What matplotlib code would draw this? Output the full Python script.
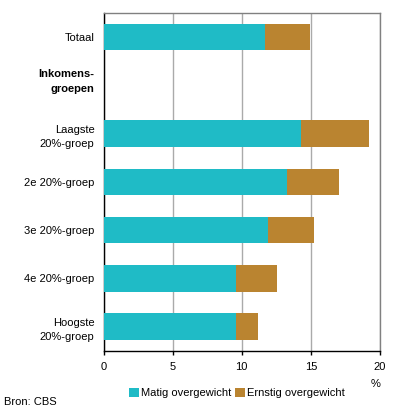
import matplotlib
matplotlib.use("Agg")
import matplotlib.pyplot as plt
import matplotlib.transforms as mtransforms
from matplotlib.patches import Patch

plt.rcParams['font.family'] = ['Liberation Sans', 'DejaVu Sans']

categories = ["Totaal", "Inkomens-\ngroepen", "Laagste\n20%-groep", "2e 20%-groep",
              "3e 20%-groep", "4e 20%-groep", "Hoogste\n20%-groep"]
matig = [11.7, None, 14.3, 13.3, 11.9, 9.6, 9.6]
ernstig = [3.25, None, 4.9, 3.7, 3.35, 2.95, 1.6]
series_names = ["Matig overgewicht", "Ernstig overgewicht"]
xticks = [0, 5, 10, 15, 20]

teal = "#1FBBC6"
brown = "#BA8430"

fig = plt.figure(figsize=(3.96, 4.16), dpi=100)
ax = fig.add_axes([0.2614, 0.157, 0.9596 - 0.2614, 0.969 - 0.157])

ypos = list(range(len(categories)))
for y, m, e in zip(ypos, matig, ernstig):
    if m is None:
        continue
    ax.barh(y, m, height=0.55, color=teal, zorder=3)
    ax.barh(y, e, left=m, height=0.55, color=brown, zorder=3)

ax.set_ylim(len(categories) - 0.5, -0.5)
ax.set_xlim(0, 20)
ax.set_xticks(xticks)
ax.set_xticklabels([str(t) for t in xticks], fontsize=8)
ax.set_yticks(ypos)
labels = [c if m is not None else "" for c, m in zip(categories, matig)]
ax.set_yticklabels(labels, fontsize=8, linespacing=1.6)
ax.tick_params(axis='y', length=0, pad=6.5)
ax.tick_params(axis='x', length=3, width=1, color='black', direction='out', pad=5.5)

# group heading (bold), slightly above its slot centre
trans = mtransforms.blended_transform_factory(ax.transAxes, ax.transData)
offset = mtransforms.ScaledTranslation(-9 / 100, 0, fig.dpi_scale_trans)
for y, c, m in zip(ypos, categories, matig):
    if m is None:
        ax.text(0, y - 0.08, c, transform=trans + offset, ha='right', va='center',
                fontsize=8, fontweight='bold', linespacing=1.6, multialignment='right')

ax.grid(axis='x', color='#AAAAAA', linewidth=1, zorder=0)
ax.set_axisbelow(True)
ax.spines['left'].set_color('black')
ax.spines['bottom'].set_color('black')
ax.spines['top'].set_color('#808080')
ax.spines['right'].set_color('#808080')
for s in ax.spines.values():
    s.set_linewidth(1)

fig.text(376 / 396, 1 - 384 / 416, "%", fontsize=8, ha='center', va='center')
handles = [Patch(facecolor=teal, edgecolor='none'), Patch(facecolor=brown, edgecolor='none')]
fig.legend(handles, series_names, loc='center', bbox_to_anchor=(237 / 396, 1 - 393 / 416),
           ncol=2, frameon=False, fontsize=8, handlelength=0.9, handleheight=0.9,
           handletextpad=0.2, columnspacing=0.3, borderaxespad=0)
fig.text(4 / 396, 1 - 402 / 416, "Bron: CBS", fontsize=8, ha='left', va='center')

fig.savefig("out.png", dpi=100)
